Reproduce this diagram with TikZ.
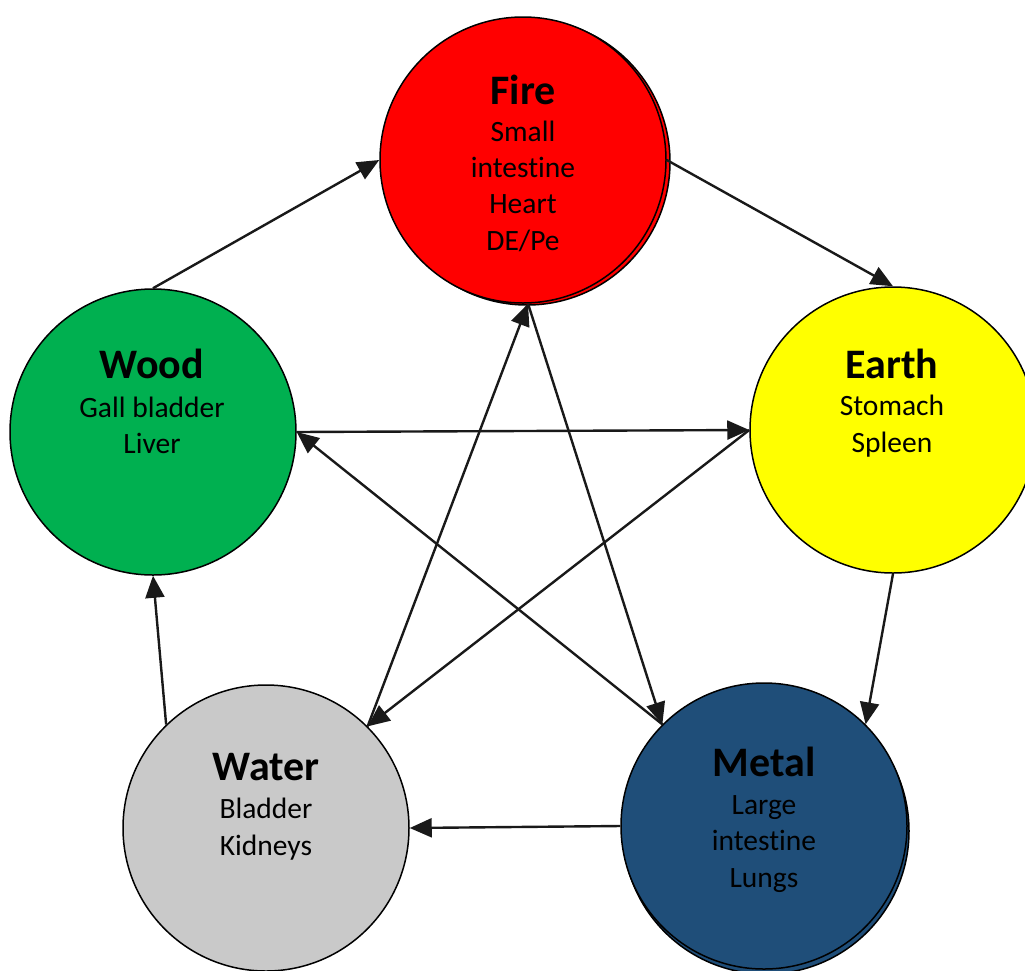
\documentclass[tikz,border=0pt]{standalone}
\usepackage{fontspec}
\setmainfont{Carlito}[Ligatures=CommonOff]
\usetikzlibrary{arrows.meta}
\definecolor{firered}{HTML}{FF0000}
\definecolor{woodgreen}{HTML}{00B050}
\definecolor{earthyellow}{HTML}{FFFF00}
\definecolor{watergray}{HTML}{C9C9C9}
\definecolor{metalblue}{HTML}{1F4E79}
\begin{document}
\begin{tikzpicture}[x=1pt,y=-1pt,
  elem/.style={circle,draw=black,line width=1.5pt,minimum size=286pt,inner sep=0pt},
  ttl/.style={font=\fontsize{42}{50}\selectfont\bfseries,anchor=base,inner sep=0pt},
  body/.style={font=\fontsize{29.5}{36.3}\selectfont,align=center,inner sep=0pt},
  arr/.style={line width=2.4pt,draw=black!90,-{Triangle[length=22pt,width=19pt]}}]
\useasboundingbox (0,0) rectangle (1025,970);
\begin{scope}
\clip (0,0) rectangle (1025,970);
% shadows
\node[elem,fill=firered] (fireshadow) at (527,162) {};
\node[elem,fill=metalblue] (metalshadow) at (766,831) {};
% circles
\node[elem,fill=firered] (fire) at (523,160) {};
\node[elem,fill=woodgreen] (wood) at (153,432) {};
\node[elem,fill=earthyellow] (earth) at (893,430) {};
\node[elem,fill=watergray] (water) at (266,828) {};
\node[elem,fill=metalblue] (metal) at (764,826) {};
\end{scope}
% generating cycle
\draw[arr] (wood.north) -- (fire.west);
\draw[arr] (fire.east) -- (earth.north);
\draw[arr] (earth.south) -- (metal.45);
\draw[arr] (metal.west) -- (water.east);
\draw[arr] (water.134) -- (wood.south);
% controlling cycle
\draw[arr] (wood.east) -- (earth.west);
\draw[arr] (earth.west) -- (water.45);
\draw[arr] (water.45) -- (fire.-88);
\draw[arr] (fire.-88) -- (metal.135);
\draw[arr] (metal.135) -- (wood.east);
% texts
\node[ttl] (firettl) at (523,104) {Fire};
\node[body] (firebody) at (523,186) {Small\\intestine\\Heart\\DE/Pe};
\node[ttl] (woodttl) at (152,378) {Wood};
\node[body] (woodbody) at (152,425) {Gall bladder\\Liver};
\node[ttl] (earthttl) at (892,378) {Earth};
\node[body] (earthbody) at (892,426) {Stomach\\Spleen};
\node[ttl] (waterttl) at (266,780) {Water};
\node[body] (waterbody) at (266,829) {Bladder\\Kidneys};
\node[ttl] (metalttl) at (764,776) {Metal};
\node[body] (metalbody) at (764,844) {Large\\intestine\\Lungs};
\end{tikzpicture}
\end{document}
